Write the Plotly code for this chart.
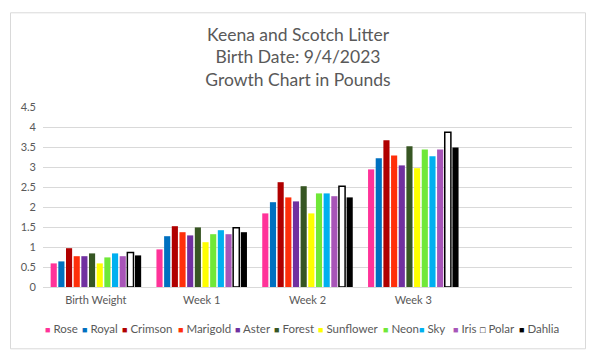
import plotly.graph_objects as go

categories = ["Birth Weight", "Week 1", "Week 2", "Week 3"]
puppies = ["Rose", "Royal", "Crimson", "Marigold", "Aster", "Forest",
           "Sunflower", "Neon", "Sky", "Iris", "Polar", "Dahlia"]
colors = ["#FF3399", "#0070C0", "#B00000", "#FF2F0A", "#7030A0", "#375623",
          "#FFFF00", "#70E838", "#00B0F0", "#A855B8", "#FFFFFF", "#000000"]

rose = [0.59, 0.94, 1.84, 2.94]
royal = [0.64, 1.27, 2.12, 3.22]
crimson = [0.97, 1.52, 2.62, 3.67]
marigold = [0.77, 1.37, 2.24, 3.29]
aster = [0.77, 1.29, 2.14, 3.04]
forest = [0.84, 1.49, 2.52, 3.52]
sunflower = [0.59, 1.12, 1.84, 2.97]
neon = [0.74, 1.32, 2.34, 3.44]
sky = [0.84, 1.42, 2.34, 3.27]
iris = [0.77, 1.32, 2.27, 3.44]
polar = [0.86, 1.48, 2.52, 3.87]
dahlia = [0.79, 1.37, 2.24, 3.49]

series = [rose, royal, crimson, marigold, aster, forest,
          sunflower, neon, sky, iris, polar, dahlia]

y_ticks = [0, 0.5, 1, 1.5, 2, 2.5, 3, 3.5, 4, 4.5]

FONT = "Lato"
TXT = "#595959"

fig = go.Figure()
for name, col, vals in zip(puppies, colors, series):
    is_polar = name == "Polar"
    fig.add_trace(go.Bar(
        name=name, x=categories, y=vals,
        marker=dict(color=col,
                    line=dict(color="#000000" if is_polar else col,
                              width=1.5 if is_polar else 0)),
    ))

# plot area in pixels: x 43..572, y 106.7..286.7
W, H = 600, 358
L, R = 43, 572
T, B = 106.7, 286.7
pw, ph = R - L, B - T

def px_x(x):
    return (x - L) / pw

def px_y(y):
    return (B - y) / ph

# legend: one text entry per series, at the left edges used by the original layout
legend_left_px = [44, 81, 121.5, 177, 234, 273, 317, 382, 418, 452, 479, 518]
SQ = "font-family:'Liberation Sans';font-size:9px"
annotations = []
for name, col, lx in zip(puppies, colors, legend_left_px):
    if name == "Polar":
        sq = f'<span style="color:#000000;{SQ}">□</span>'
    else:
        sq = f'<span style="color:{col};{SQ}">■</span>'
    annotations.append(dict(
        text=f'{sq}\u00a0{name}', xref="paper", yref="paper",
        x=px_x(lx - 0.5), y=px_y(328), xanchor="left", yanchor="middle",
        showarrow=False, borderpad=0,
        font=dict(family=FONT, size=11.5, color=TXT)))

fig.update_layout(
    width=W, height=H,
    margin=dict(l=L, r=W - R, t=T, b=H - B, pad=0),
    paper_bgcolor="white", plot_bgcolor="white",
    barmode="group", bargap=0.13, bargroupgap=0.2,
    showlegend=False,
    font=dict(family=FONT, color=TXT, size=11),
    title=dict(
        text="Keena and Scotch Litter<br>Birth Date: 9/4/2023<br>Growth Chart in Pounds",
        x=298 / W, xanchor="center", xref="container",
        y=1 - 40.5 / H, yanchor="middle", yref="container",
        font=dict(family=FONT, size=17.5, color=TXT),
    ),
    xaxis=dict(range=[-0.5, 4.5], showgrid=False, showline=False,
               ticks="", ticklabelstandoff=5, tickfont=dict(size=11, color=TXT)),
    yaxis=dict(range=[0, 4.5], tickvals=y_ticks,
               ticktext=[f"{v:g}" for v in y_ticks],
               showgrid=True, gridcolor="#D9D9D9", gridwidth=1,
               zeroline=True, zerolinecolor="#D9D9D9", zerolinewidth=1,
               showline=False, ticks="", ticklabelstandoff=6,
               tickfont=dict(size=11, color=TXT)),
    shapes=[dict(type="rect", xref="paper", yref="paper",
                 x0=px_x(10.5), x1=px_x(585.5), y0=px_y(348.5), y1=px_y(12.5),
                 line=dict(color="#D9D9D9", width=1), fillcolor="rgba(0,0,0,0)",
                 layer="below")],
    annotations=annotations,
)

fig.write_html("out.html", config={"displayModeBar": False},
               post_script="document.body.style.margin='0';document.body.style.padding='0';")
